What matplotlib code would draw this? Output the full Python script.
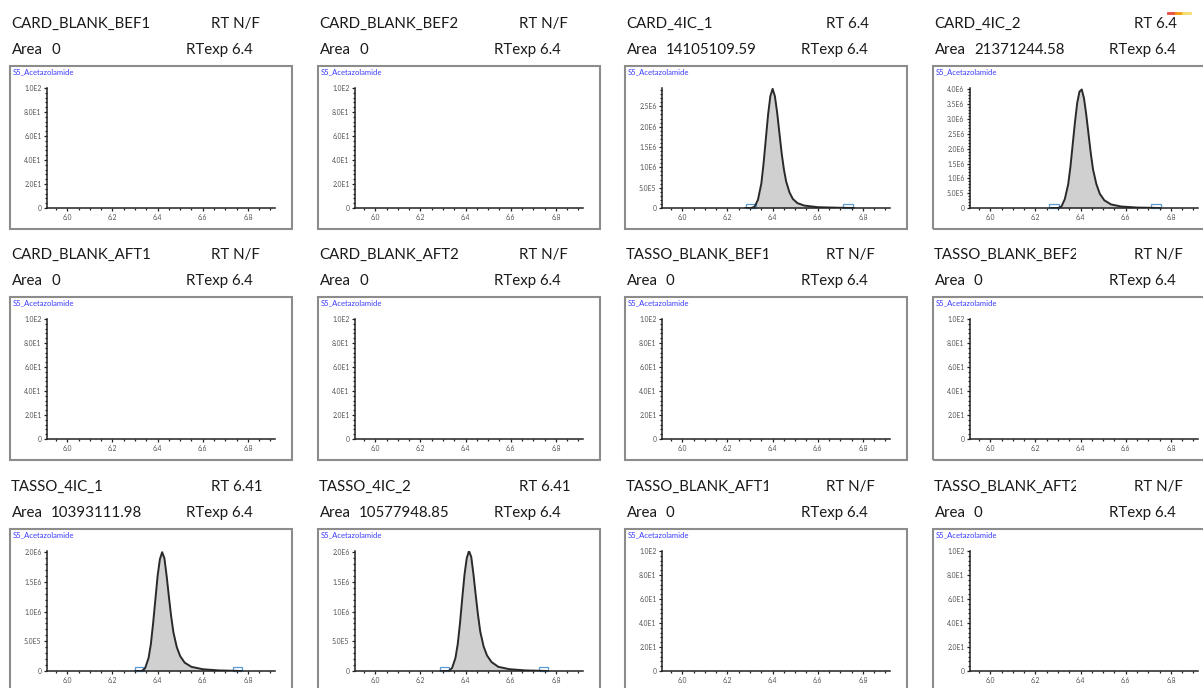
import matplotlib.pyplot as plt
from matplotlib.patches import Rectangle
from matplotlib.ticker import MultipleLocator, AutoMinorLocator, FuncFormatter
from matplotlib.transforms import Bbox, blended_transform_factory

W, H = 1203, 688

# ── data ────────────────────────────────────────────────────────────────────
samples = ["CARD_BLANK_BEF1", "CARD_BLANK_BEF2", "CARD_4IC_1", "CARD_4IC_2",
           "CARD_BLANK_AFT1", "CARD_BLANK_AFT2", "TASSO_BLANK_BEF1", "TASSO_BLANK_BEF2",
           "TASSO_4IC_1", "TASSO_4IC_2", "TASSO_BLANK_AFT1", "TASSO_BLANK_AFT2"]
areas = ["0", "0", "14105109.59", "21371244.58",
         "0", "0", "0", "0",
         "10393111.98", "10577948.85", "0", "0"]
rts = ["N/F", "N/F", "6.4", "6.4",
       "N/F", "N/F", "N/F", "N/F",
       "6.41", "6.41", "N/F", "N/F"]
rt_exp = "6.4"
compound = "S5_Acetazolamide"

y_top  = [100, 100, 2.95e6, 4.05e6, 100, 100, 100, 100, 2.02e6, 2.02e6, 100, 100]
y_step = [20, 20, 5e5, 5e5, 20, 20, 20, 20, 5e5, 5e5, 20, 20]

card1_rt  = [6.28, 6.305, 6.32, 6.335, 6.35, 6.36, 6.37, 6.38, 6.39, 6.40, 6.41, 6.42,
             6.43, 6.44, 6.45, 6.46, 6.475, 6.49, 6.51, 6.54, 6.60, 6.70, 6.76]
card1_int = [0, 0, 0.03, 0.2, 0.6, 1.1, 1.7, 2.3, 2.75, 2.93, 2.75, 2.35,
             1.85, 1.35, 0.95, 0.65, 0.38, 0.22, 0.12, 0.06, 0.02, 0.005, 0]

card2_rt  = [6.27, 6.30, 6.315, 6.33, 6.345, 6.355, 6.365, 6.375, 6.385, 6.395, 6.405, 6.415,
             6.425, 6.435, 6.445, 6.455, 6.47, 6.485, 6.505, 6.535, 6.58, 6.65, 6.75]
card2_int = [0, 0, 0.05, 0.3, 0.8, 1.4, 2.15, 2.9, 3.55, 3.93, 4.0, 3.7,
             3.15, 2.5, 1.85, 1.3, 0.8, 0.48, 0.26, 0.12, 0.05, 0.015, 0]

tasso1_rt  = [6.30, 6.33, 6.345, 6.36, 6.37, 6.38, 6.39, 6.40, 6.41, 6.42, 6.43,
              6.44, 6.45, 6.46, 6.47, 6.485, 6.50, 6.52, 6.55, 6.60, 6.67, 6.77]
tasso1_int = [0, 0, 0.05, 0.22, 0.45, 0.8, 1.2, 1.6, 1.88, 2.0, 1.9,
              1.6, 1.25, 0.92, 0.65, 0.4, 0.25, 0.14, 0.07, 0.03, 0.01, 0]

tasso2_rt  = [6.29, 6.325, 6.34, 6.355, 6.365, 6.375, 6.385, 6.395, 6.405, 6.415, 6.425,
              6.435, 6.445, 6.455, 6.465, 6.48, 6.495, 6.515, 6.545, 6.595, 6.665, 6.76]
tasso2_int = [0, 0, 0.05, 0.22, 0.45, 0.8, 1.22, 1.62, 1.9, 2.02, 1.92,
              1.62, 1.27, 0.94, 0.66, 0.41, 0.26, 0.15, 0.07, 0.03, 0.01, 0]

peaks = {"CARD_4IC_1": (card1_rt, card1_int), "CARD_4IC_2": (card2_rt, card2_int),
         "TASSO_4IC_1": (tasso1_rt, tasso1_int), "TASSO_4IC_2": (tasso2_rt, tasso2_int)}

# integration start / end markers (rt from, rt to)
bounds = {"CARD_4IC_1":  [(6.282, 6.325), (6.713, 6.757)],
          "CARD_4IC_2":  [(6.261, 6.305), (6.714, 6.755)],
          "TASSO_4IC_1": [(6.298, 6.338), (6.734, 6.774)],
          "TASSO_4IC_2": [(6.288, 6.328), (6.724, 6.764)]}

x_lim = (5.91, 6.92)
x_ticks = [6.0, 6.2, 6.4, 6.6, 6.8]

# ── layout (pixels) ─────────────────────────────────────────────────────────
col_x = [10, 318, 625, 933]
row_y = [66, 297, 529]
box_w, box_h = 282, 163
fs = 10.8

plt.rcParams['font.family'] = ['Lato', 'DejaVu Sans']


def fx(x):
    return x / W


def fy(y):
    return 1 - y / H


def sci_fmt(v, pos=None):
    if v == 0:
        return "0"
    m, e = f"{v:.1E}".split("E")
    return f"{m}E{int(e)}"


fig = plt.figure(figsize=(W / 100, H / 100), dpi=100)
fig.patch.set_facecolor("white")

for i, name in enumerate(samples):
    cx, cy = col_x[i % 4], row_y[i // 4]

    # header texts (sample name cell is clipped like in the report)
    t = fig.text(fx(cx + 1), fy(cy - 42), name, fontsize=fs, va="center", color="#1a1a1a")
    t.set_clip_box(Bbox([[cx, 0], [cx + 143, H]]))
    t.set_clip_on(True)
    fig.text(fx(cx + 201), fy(cy - 42), f"RT {rts[i]}", fontsize=fs, va="center", color="#1a1a1a")
    fig.text(fx(cx + 1.5), fy(cy - 16), "Area", fontsize=fs, va="center", color="#1a1a1a")
    fig.text(fx(cx + 41), fy(cy - 16), areas[i], fontsize=fs, va="center", color="#1a1a1a")
    fig.text(fx(cx + 176), fy(cy - 16), f"RTexp {rt_exp}", fontsize=fs, va="center", color="#1a1a1a")

    # frame round the chromatogram
    fig.patches.append(Rectangle((fx(cx), fy(cy + box_h)), box_w / W, box_h / H,
                                 transform=fig.transFigure, fill=False,
                                 edgecolor="#8c8c8c", linewidth=1.5))
    fig.text(fx(cx + 3), fy(cy + 6), compound, fontsize=5.5, color="#3a3aff", va="center")

    ax = fig.add_axes([fx(cx + 37), fy(cy + 142), 228 / W, 120 / H])
    ax.set_xlim(*x_lim)
    ax.set_ylim(0, y_top[i])
    ax.patch.set_alpha(0)
    for s in ["top", "right"]:
        ax.spines[s].set_visible(False)
    for s in ["left", "bottom"]:
        ax.spines[s].set_linewidth(1.1)
        ax.spines[s].set_color("#222222")
    ax.set_xticks(x_ticks)
    ax.xaxis.set_minor_locator(MultipleLocator(0.05))
    ax.yaxis.set_major_locator(MultipleLocator(y_step[i]))
    ax.yaxis.set_minor_locator(AutoMinorLocator(5))
    ax.yaxis.set_major_formatter(FuncFormatter(sci_fmt))
    ax.xaxis.set_major_formatter(FuncFormatter(lambda v, p: f"{v:.1f}"))
    ax.tick_params(which="both", direction="out", color="#222222", width=0.9,
                   labelsize=4.9, labelcolor="#555555", pad=1.5)
    ax.tick_params(which="major", length=2.5)
    ax.tick_params(which="minor", length=1.6)

    if name in peaks:
        rt, inten = peaks[name]
        inten = [v * 1e6 for v in inten]
        ax.fill_between(rt, inten, color="#d0d0d0", linewidth=0)
        ax.plot(rt, inten, color="#2a2a2a", linewidth=1.4)
        tr = blended_transform_factory(ax.transData, ax.transAxes)
        for a, b in bounds[name]:
            ax.add_patch(Rectangle((a, 0), b - a, 0.035, transform=tr, fill=False,
                                   edgecolor="#5b9bd5", linewidth=0.9, clip_on=False))

# small coloured mark at top right of the page
for x0, x1, c in [(1168, 1176, "#e74c3c"), (1176, 1183, "#f39c12"), (1183, 1190, "#f7dc6f")]:
    fig.add_artist(plt.Line2D([fx(x0), fx(x1)], [fy(13), fy(13)], color=c, linewidth=2,
                              transform=fig.transFigure))

fig.savefig("out.png", dpi=100)
